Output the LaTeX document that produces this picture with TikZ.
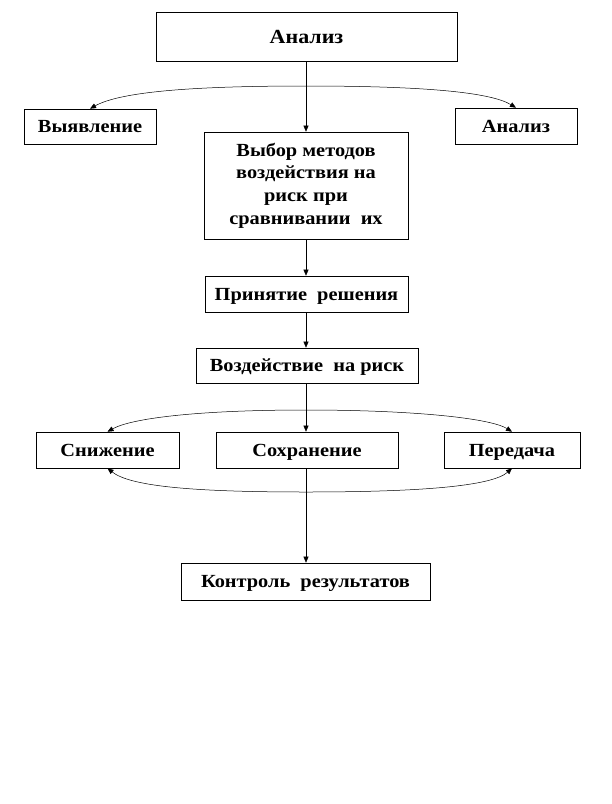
\documentclass[tikz,border=0pt]{standalone}
\usepackage{fontspec}
\setmainfont{Liberation Serif}[FakeStretch=1.1]
\usetikzlibrary{arrows.meta}
\begin{document}
\begin{tikzpicture}[x=1pt,y=-1pt,
  box/.style={draw=black, line width=0.6pt, inner sep=0pt, align=center,
    font=\bfseries\fontsize{18.5}{22.7}\selectfont},
  one/.style={box, text height=12.3pt, text depth=0pt},
  conn/.style={line width=0.5pt, -{Triangle[length=6pt,width=5pt]}}]
\useasboundingbox (0,0) rectangle (612,804);
\node[one, minimum width=301, minimum height=49, font=\bfseries\fontsize{20}{24}\selectfont, text height=13.3pt] (top) at (306.5,36.5) {Анализ};
\node[one, minimum width=132, minimum height=35] (vyav) at (90,126.5) {Выявление};
\node[one, minimum width=122, minimum height=36] (anal) at (516,126) {Анализ};
\node[box, minimum width=204, minimum height=107] (vybor) at (306,185.5) {Выбор методов\\воздействия на\\риск при\\сравнивании\ \ их};
\node[one, minimum width=203, minimum height=36] (prin) at (306.5,294) {Принятие\ \ решения};
\node[one, minimum width=222, minimum height=35] (vozd) at (307,365.5) {Воздействие\ \ на риск};
\node[one, minimum width=143, minimum height=36] (sniz) at (107.5,450) {Снижение};
\node[one, minimum width=182, minimum height=36] (sokh) at (307,450) {Сохранение};
\node[one, minimum width=136, minimum height=36] (pered) at (512,450) {Передача};
\node[one, minimum width=249, minimum height=37] (kontr) at (305.5,581.5) {Контроль\ \ результатов};

% vertical connectors
\draw[conn] (306,0 |- top.south) -- (306,0 |- vybor.north);
\draw[conn] (306,0 |- vybor.south) -- (306,0 |- prin.north);
\draw[conn] (306,0 |- prin.south) -- (306,0 |- vozd.north);
\draw[conn] (306,0 |- vozd.south) -- (306,0 |- sokh.north);
\draw[conn] (306,0 |- sokh.south) -- (306,0 |- kontr.north);

% upper arc
\coordinate (a1) at (306,86);
\draw[conn] (a1) .. controls (190,86) and (120,92) .. (vyav.north);
\draw[conn] (a1) .. controls (422,86) and (490,92) .. (anal.north);

% middle arc
\coordinate (a2) at (306,410);
\draw[conn] (a2) .. controls (200,410) and (132,418) .. (sniz.north);
\draw[conn] (a2) .. controls (412,410) and (490,418) .. (pered.north);

% lower arc
\coordinate (a3) at (306,492);
\draw[conn] (a3) .. controls (190,492) and (130,486) .. (sniz.south);
\draw[conn] (a3) .. controls (422,492) and (492,486) .. (pered.south);
\end{tikzpicture}
\end{document}
